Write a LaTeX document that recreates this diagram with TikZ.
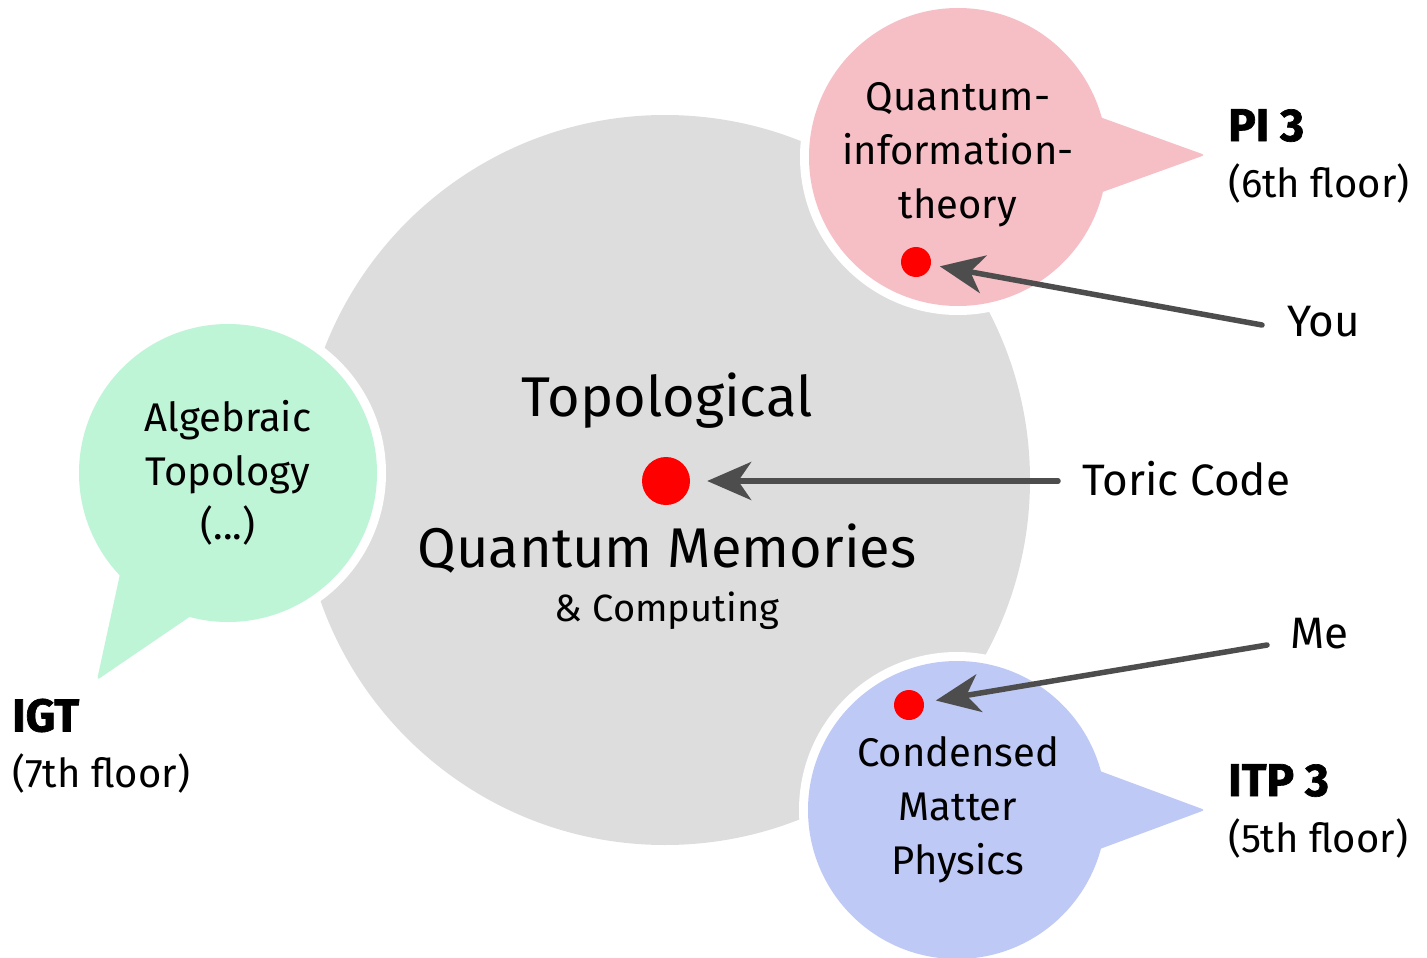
\documentclass[tikz,border=0pt]{standalone}
\usepackage{fontspec}
\setmainfont{Fira Sans}[BoldFeatures={FakeBold=1.5}]
\usetikzlibrary{arrows.meta}
\definecolor{graybg}{HTML}{DDDDDD}
\definecolor{pinkb}{HTML}{F6BFC6}
\definecolor{greenb}{HTML}{BFF5D7}
\definecolor{blueb}{HTML}{BFC9F5}
\definecolor{arrowgray}{HTML}{4D4D4D}
\definecolor{dotred}{HTML}{FF0000}
\newcommand{\heavylabel}[1]{{\fontsize{46}{56}\selectfont\bfseries #1}}
\tikzset{
  dot/.style={circle, fill=dotred, inner sep=0pt, minimum size=#1},
  pointer/.style={-{Stealth[length=44pt,width=38pt,inset=13pt]}, line width=5.5pt, draw=arrowgray, line cap=round},
  bubtext/.style={align=center, font=\fontsize{40}{54}\selectfont, inner sep=0pt},
  lbl/.style={align=left, font=\fontsize{40}{56}\selectfont, inner sep=0pt, anchor=west},
  big/.style={font=\fontsize{56}{60}\selectfont, inner sep=0pt, anchor=base}
}
\begin{document}
\begin{tikzpicture}[x=1pt,y=-1pt]
\useasboundingbox (0,0) rectangle (1427,958);
% main circle
\fill[graybg] (665,480) circle[radius=365];
% pink bubble
\fill[white] (958,157) circle[radius=158];
\fill[pinkb] (958,157) circle[radius=149];
\fill[pinkb, rounded corners=3pt] (1000,81) -- (1205,155) -- (1000,229) -- cycle;
% green bubble
\fill[white] (228,473) circle[radius=158];
\fill[greenb] (228,473) circle[radius=149];
\fill[greenb, rounded corners=3pt] (138,491) -- (97,680) -- (229,590) -- cycle;
% blue bubble
\fill[white] (957,810) circle[radius=158];
\fill[blueb] (957,810) circle[radius=149];
\fill[blueb, rounded corners=3pt] (1000,734) -- (1205,810) -- (1000,886) -- cycle;
% dots
\node[dot=30pt] (d1) at (916,262) {};
\node[dot=48pt] (d2) at (666,481) {};
\node[dot=30pt] (d3) at (909,705) {};
% texts
\node[big] (topo) at (667,416) {Topological};
\node[big] (qm) at (667,567) {Quantum Memories};
\node[font=\fontsize{38}{40}\selectfont, inner sep=0pt, anchor=base] (comp) at (667,621) {\& Computing};
\node[font=\fontsize{44}{48}\selectfont, inner sep=0pt, anchor=west] (toric) at (1082,479) {Toric Code};
\node[font=\fontsize{44}{48}\selectfont, inner sep=0pt, anchor=west] (you) at (1287,322) {You};
\node[font=\fontsize{44}{48}\selectfont, inner sep=0pt, anchor=west] (me) at (1290,634) {Me};
\node[bubtext] (pinkt) at (958,155) {Quantum-\\information-\\theory};
\node[bubtext] (greent) at (228,473) {Algebraic\\Topology\\(...)};
\node[bubtext] (bluet) at (958,810) {Condensed\\Matter\\Physics};
\node[lbl] (pi) at (1228,156) {\heavylabel{PI 3}\\(6th floor)};
\node[lbl] (itp) at (1228,811) {\heavylabel{ITP 3}\\(5th floor)};
\node[lbl] (igt) at (12,746) {\heavylabel{IGT}\\(7th floor)};
% arrow start points
\coordinate (youS) at (1262,325);
\coordinate (toricS) at (1058,481);
\coordinate (meS) at (1267,645);
\draw[pointer, shorten >=9pt] (youS) -- (d1);
\draw[pointer, shorten >=17pt] (toricS) -- (d2);
\draw[pointer, shorten >=12pt] (meS) -- (d3);
\end{tikzpicture}
\end{document}
